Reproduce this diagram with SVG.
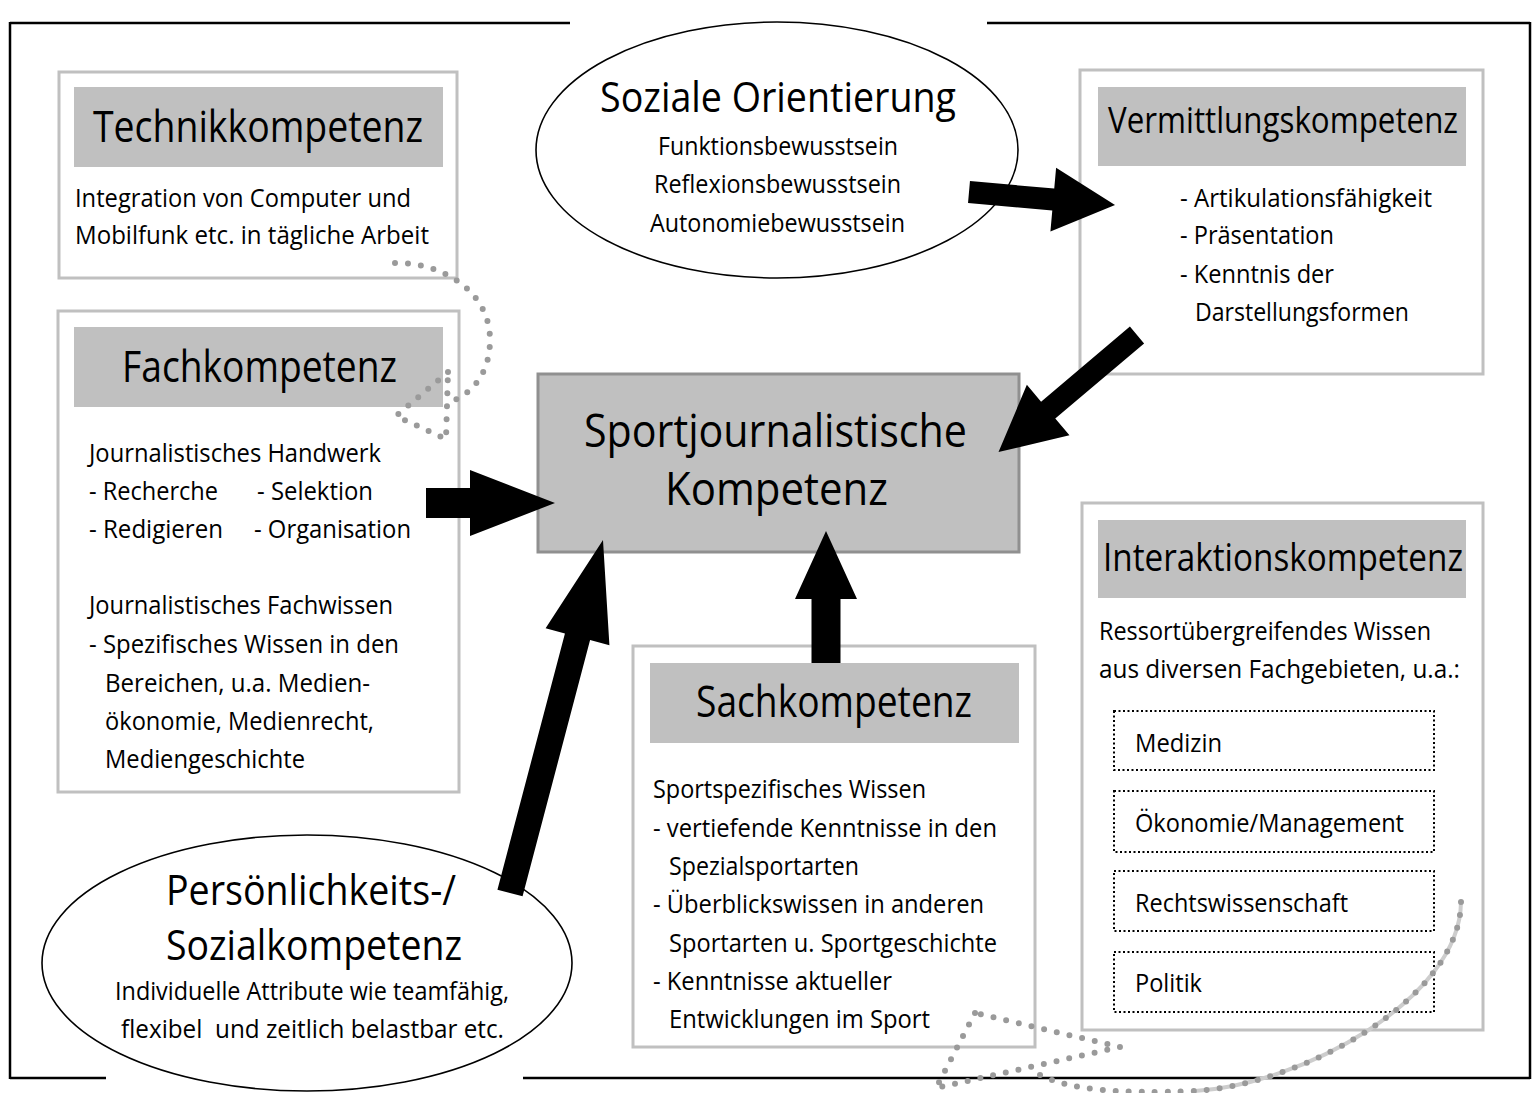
<svg xmlns="http://www.w3.org/2000/svg" width="1534" height="1093" viewBox="0 0 1534 1093">
<style>
text{font-family:"Open Sans","Noto Sans","DejaVu Sans",sans-serif;fill:#000;}
.t{font-size:44px;}
.b{font-size:25px;}
.frame{stroke:#000;stroke-width:2.5;fill:none;}
.box{fill:#fff;stroke:#c0c0c0;stroke-width:3;}
.hdr{fill:#c0c0c0;}
.ell{fill:#fff;stroke:#000;stroke-width:1.6;}
.dbox{fill:none;stroke:#000;stroke-width:2;stroke-dasharray:2 2.5;}
.arr{fill:#000;}
.dots{fill:none;stroke:#9a9a9a;stroke-width:6;stroke-linecap:round;stroke-linejoin:round;stroke-dasharray:0 13;}
.band{fill:none;stroke:#cdcdcd;stroke-width:4;}
</style>

<g id="frame">
<line class="frame" x1="10" y1="23" x2="570" y2="23"/>
<line class="frame" x1="987" y1="23" x2="1530" y2="23"/>
<line class="frame" x1="10" y1="22" x2="10" y2="1079"/>
<line class="frame" x1="1530" y1="22" x2="1530" y2="1079"/>
<line class="frame" x1="10" y1="1078" x2="106" y2="1078"/>
<line class="frame" x1="523" y1="1078" x2="1530" y2="1078"/>
</g>

<g id="technik">
<rect class="box" x="59" y="72" width="398" height="206"/>
<rect class="hdr" x="74" y="87" width="369" height="80"/>
<text class="t" x="93" y="142" textLength="330" lengthAdjust="spacingAndGlyphs">Technikkompetenz</text>
<text class="b" x="75" y="207" textLength="336" lengthAdjust="spacingAndGlyphs">Integration von Computer und</text>
<text class="b" x="75" y="244" textLength="354" lengthAdjust="spacingAndGlyphs">Mobilfunk etc. in tägliche Arbeit</text>
</g>

<g id="fach">
<rect class="box" x="58" y="311" width="401" height="481"/>
<rect class="hdr" x="74" y="327" width="369" height="80"/>
<text class="t" x="122" y="382" textLength="275" lengthAdjust="spacingAndGlyphs">Fachkompetenz</text>
<text class="b" x="89" y="462" textLength="292" lengthAdjust="spacingAndGlyphs">Journalistisches Handwerk</text>
<text class="b" x="89" y="500" textLength="129" lengthAdjust="spacingAndGlyphs">- Recherche</text>
<text class="b" x="257" y="500" textLength="116" lengthAdjust="spacingAndGlyphs">- Selektion</text>
<text class="b" x="89" y="538" textLength="134" lengthAdjust="spacingAndGlyphs">- Redigieren</text>
<text class="b" x="254" y="538" textLength="157" lengthAdjust="spacingAndGlyphs">- Organisation</text>
<text class="b" x="89" y="614" textLength="304" lengthAdjust="spacingAndGlyphs">Journalistisches Fachwissen</text>
<text class="b" x="89" y="653" textLength="310" lengthAdjust="spacingAndGlyphs">- Spezifisches Wissen in den</text>
<text class="b" x="105" y="692" textLength="265" lengthAdjust="spacingAndGlyphs">Bereichen, u.a. Medien-</text>
<text class="b" x="105" y="730" textLength="269" lengthAdjust="spacingAndGlyphs">ökonomie, Medienrecht,</text>
<text class="b" x="105" y="768" textLength="200" lengthAdjust="spacingAndGlyphs">Mediengeschichte</text>
</g>

<g id="vermittlung">
<rect class="box" x="1080" y="70" width="403" height="304"/>
<rect class="hdr" x="1098" y="87" width="368" height="79"/>
<text x="1108" y="133" font-size="36" textLength="350" lengthAdjust="spacingAndGlyphs">Vermittlungskompetenz</text>
<text class="b" x="1180" y="207" textLength="252" lengthAdjust="spacingAndGlyphs">- Artikulationsfähigkeit</text>
<text class="b" x="1180" y="244" textLength="154" lengthAdjust="spacingAndGlyphs">- Präsentation</text>
<text class="b" x="1180" y="283" textLength="154" lengthAdjust="spacingAndGlyphs">- Kenntnis der</text>
<text class="b" x="1195" y="321" textLength="214" lengthAdjust="spacingAndGlyphs">Darstellungsformen</text>
</g>

<g id="interaktion">
<rect class="box" x="1082" y="503" width="401" height="527"/>
<rect class="hdr" x="1098" y="520" width="368" height="78"/>
<text x="1103" y="571" font-size="38" textLength="360" lengthAdjust="spacingAndGlyphs">Interaktionskompetenz</text>
<text class="b" x="1099" y="640" textLength="332" lengthAdjust="spacingAndGlyphs">Ressortübergreifendes Wissen</text>
<text class="b" x="1099" y="678" textLength="361" lengthAdjust="spacingAndGlyphs">aus diversen Fachgebieten, u.a.:</text>
<rect class="dbox" x="1114" y="711" width="320" height="59"/>
<rect class="dbox" x="1114" y="791" width="320" height="61"/>
<rect class="dbox" x="1114" y="871" width="320" height="60"/>
<rect class="dbox" x="1114" y="952" width="320" height="60"/>
<text class="b" x="1135" y="752" textLength="87" lengthAdjust="spacingAndGlyphs">Medizin</text>
<text class="b" x="1135" y="832" textLength="269" lengthAdjust="spacingAndGlyphs">Ökonomie/Management</text>
<text class="b" x="1135" y="912" textLength="213" lengthAdjust="spacingAndGlyphs">Rechtswissenschaft</text>
<text class="b" x="1135" y="992" textLength="67" lengthAdjust="spacingAndGlyphs">Politik</text>
</g>

<g id="sach">
<rect class="box" x="633" y="646" width="402" height="401"/>
<rect class="hdr" x="650" y="663" width="369" height="80"/>
<text class="t" x="696" y="717" textLength="276" lengthAdjust="spacingAndGlyphs">Sachkompetenz</text>
<text class="b" x="653" y="798" textLength="273" lengthAdjust="spacingAndGlyphs">Sportspezifisches Wissen</text>
<text class="b" x="653" y="837" textLength="344" lengthAdjust="spacingAndGlyphs">- vertiefende Kenntnisse in den</text>
<text class="b" x="669" y="875" textLength="190" lengthAdjust="spacingAndGlyphs">Spezialsportarten</text>
<text class="b" x="653" y="913" textLength="331" lengthAdjust="spacingAndGlyphs">- Überblickswissen in anderen</text>
<text class="b" x="669" y="952" textLength="328" lengthAdjust="spacingAndGlyphs">Sportarten u. Sportgeschichte</text>
<text class="b" x="653" y="990" textLength="239" lengthAdjust="spacingAndGlyphs">- Kenntnisse aktueller</text>
<text class="b" x="669" y="1028" textLength="261" lengthAdjust="spacingAndGlyphs">Entwicklungen im Sport</text>
</g>

<g id="zentral">
<rect x="538" y="374" width="481" height="178" fill="#c0c0c0" stroke="#909090" stroke-width="3"/>
<text x="584" y="447" font-size="46" textLength="383" lengthAdjust="spacingAndGlyphs">Sportjournalistische</text>
<text x="665" y="505" font-size="46" textLength="223" lengthAdjust="spacingAndGlyphs">Kompetenz</text>
</g>

<g id="soziale">
<ellipse class="ell" cx="777" cy="150" rx="241" ry="128"/>
<text x="600" y="112" font-size="42" textLength="356" lengthAdjust="spacingAndGlyphs">Soziale Orientierung</text>
<text class="b" x="658" y="155" textLength="240" lengthAdjust="spacingAndGlyphs">Funktionsbewusstsein</text>
<text class="b" x="654" y="193" textLength="247" lengthAdjust="spacingAndGlyphs">Reflexionsbewusstsein</text>
<text class="b" x="650" y="232" textLength="255" lengthAdjust="spacingAndGlyphs">Autonomiebewusstsein</text>
</g>

<g id="persoenlichkeit">
<ellipse class="ell" cx="307" cy="963" rx="265" ry="128"/>
<text x="166" y="905" font-size="42" textLength="290" lengthAdjust="spacingAndGlyphs">Persönlichkeits-/</text>
<text x="166" y="960" font-size="42" textLength="296" lengthAdjust="spacingAndGlyphs">Sozialkompetenz</text>
<text class="b" x="115" y="1000" textLength="394" lengthAdjust="spacingAndGlyphs">Individuelle Attribute wie teamfähig,</text>
<text class="b" x="121" y="1038" textLength="383" lengthAdjust="spacingAndGlyphs">flexibel&#160; und zeitlich belastbar etc.</text>
</g>

<g id="connectors">
<path class="arr" transform="translate(969,192) rotate(5.09)" d="M0,-11 L84.6,-11 L84.6,-32 L146.6,0 L84.6,32 L84.6,11 L0,11 Z"/>
<path class="arr" transform="translate(1137,335) rotate(139.8)" d="M0,-11 L116.3,-11 L116.3,-33 L181.3,0 L116.3,33 L116.3,11 L0,11 Z"/>
<path class="arr" transform="translate(426,503)" d="M0,-15 L44,-15 L44,-33 L129,0 L44,33 L44,15 L0,15 Z"/>
<path class="arr" transform="translate(510,893) rotate(-75.24)" d="M0,-13 L265,-13 L265,-33 L365,0 L265,33 L265,13 L0,13 Z"/>
<path class="arr" transform="translate(826,663) rotate(-90)" d="M0,-14.5 L64,-14.5 L64,-31 L132,0 L64,31 L64,14.5 L0,14.5 Z"/>
<path class="dots" d="M395,263 C440,262 490,290 490,340 C490,375 470,395 450,402"/>
<path class="dots" d="M448,372 L396,416 L446,439 Z"/>
<path class="band" d="M1461,902 C1460,1000 1300,1085 1195,1091"/>
<path class="dots" d="M1461,902 C1460,1000 1300,1085 1195,1091 C1120,1094 1070,1090 1040,1075"/>
<path class="dots" d="M975,1013 L936,1088 L1120,1047 Z"/>
</g>
</svg>
